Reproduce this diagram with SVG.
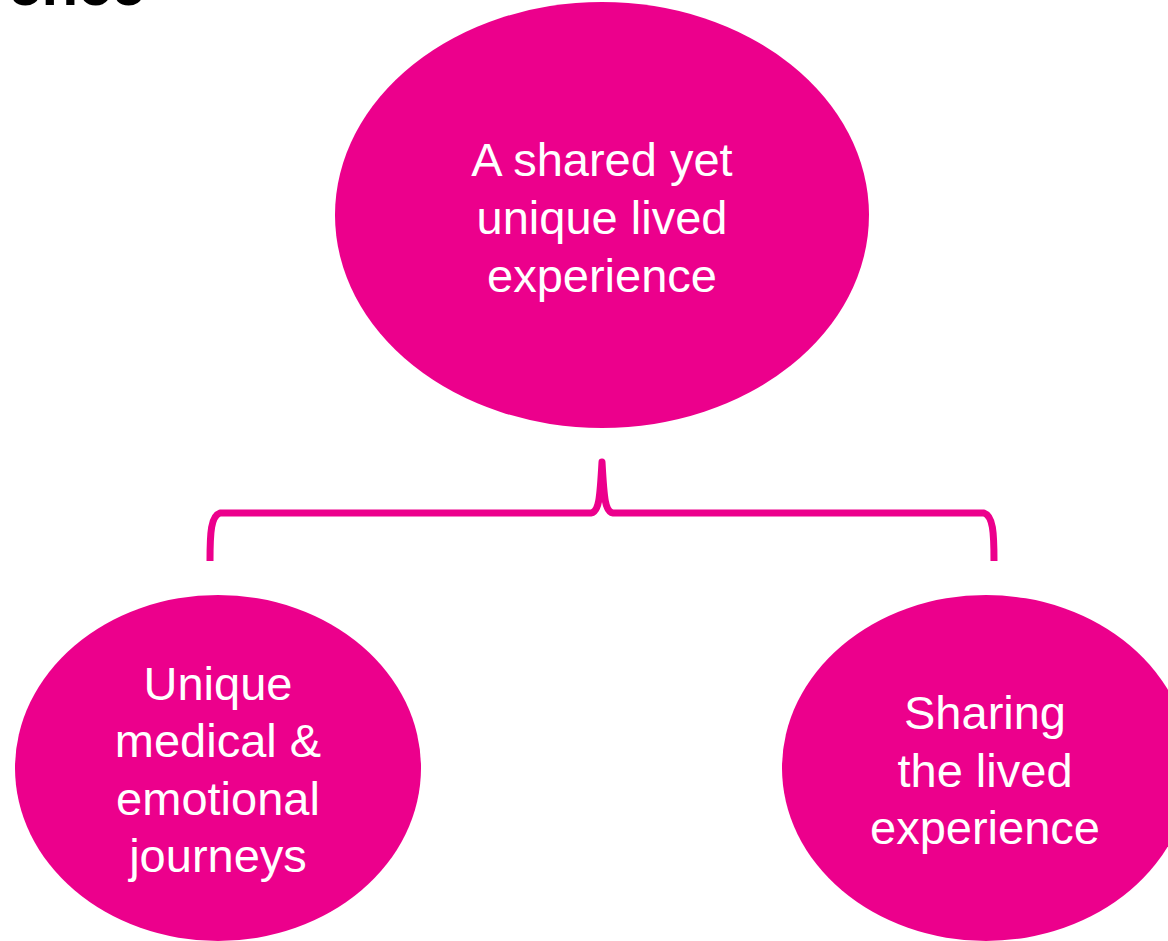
<svg xmlns="http://www.w3.org/2000/svg" width="1168" height="941" viewBox="0 0 1168 941">
<style>
.node{fill:#EC008C;}
.lbl{font-family:"Liberation Sans",Arial,sans-serif;font-size:47px;fill:#FFFFFF;text-anchor:middle;}
.title{font-family:"Liberation Sans",Arial,sans-serif;font-size:60px;font-weight:bold;fill:#000000;text-anchor:end;}
.brace{fill:none;stroke:#EC008C;stroke-width:7;stroke-linejoin:round;}
</style>
<rect width="1168" height="941" fill="#FFFFFF"/>
<text class="title" x="145" y="5">ence</text>
<g id="connectors">
<path class="brace" d="M210,561 C210,532 211,516 220,513 L591,513 C599,512 600,498 602,462 C604,498 605,512 613,513 L984,513 C993,516 994,532 994,561"/>
</g>
<g id="node-top">
<ellipse class="node" cx="602" cy="215" rx="267" ry="213"/>
<text class="lbl" x="602" y="176">A shared yet</text>
<text class="lbl" x="602" y="234">unique lived</text>
<text class="lbl" x="602" y="292">experience</text>
</g>
<g id="node-left">
<ellipse class="node" cx="218" cy="768" rx="203" ry="173"/>
<text class="lbl" x="218" y="700">Unique</text>
<text class="lbl" x="218" y="757">medical &amp;</text>
<text class="lbl" x="218" y="815">emotional</text>
<text class="lbl" x="218" y="872">journeys</text>
</g>
<g id="node-right">
<ellipse class="node" cx="986" cy="768" rx="204" ry="173"/>
<text class="lbl" x="985" y="729">Sharing</text>
<text class="lbl" x="985" y="787">the lived</text>
<text class="lbl" x="985" y="844">experience</text>
</g>
</svg>
